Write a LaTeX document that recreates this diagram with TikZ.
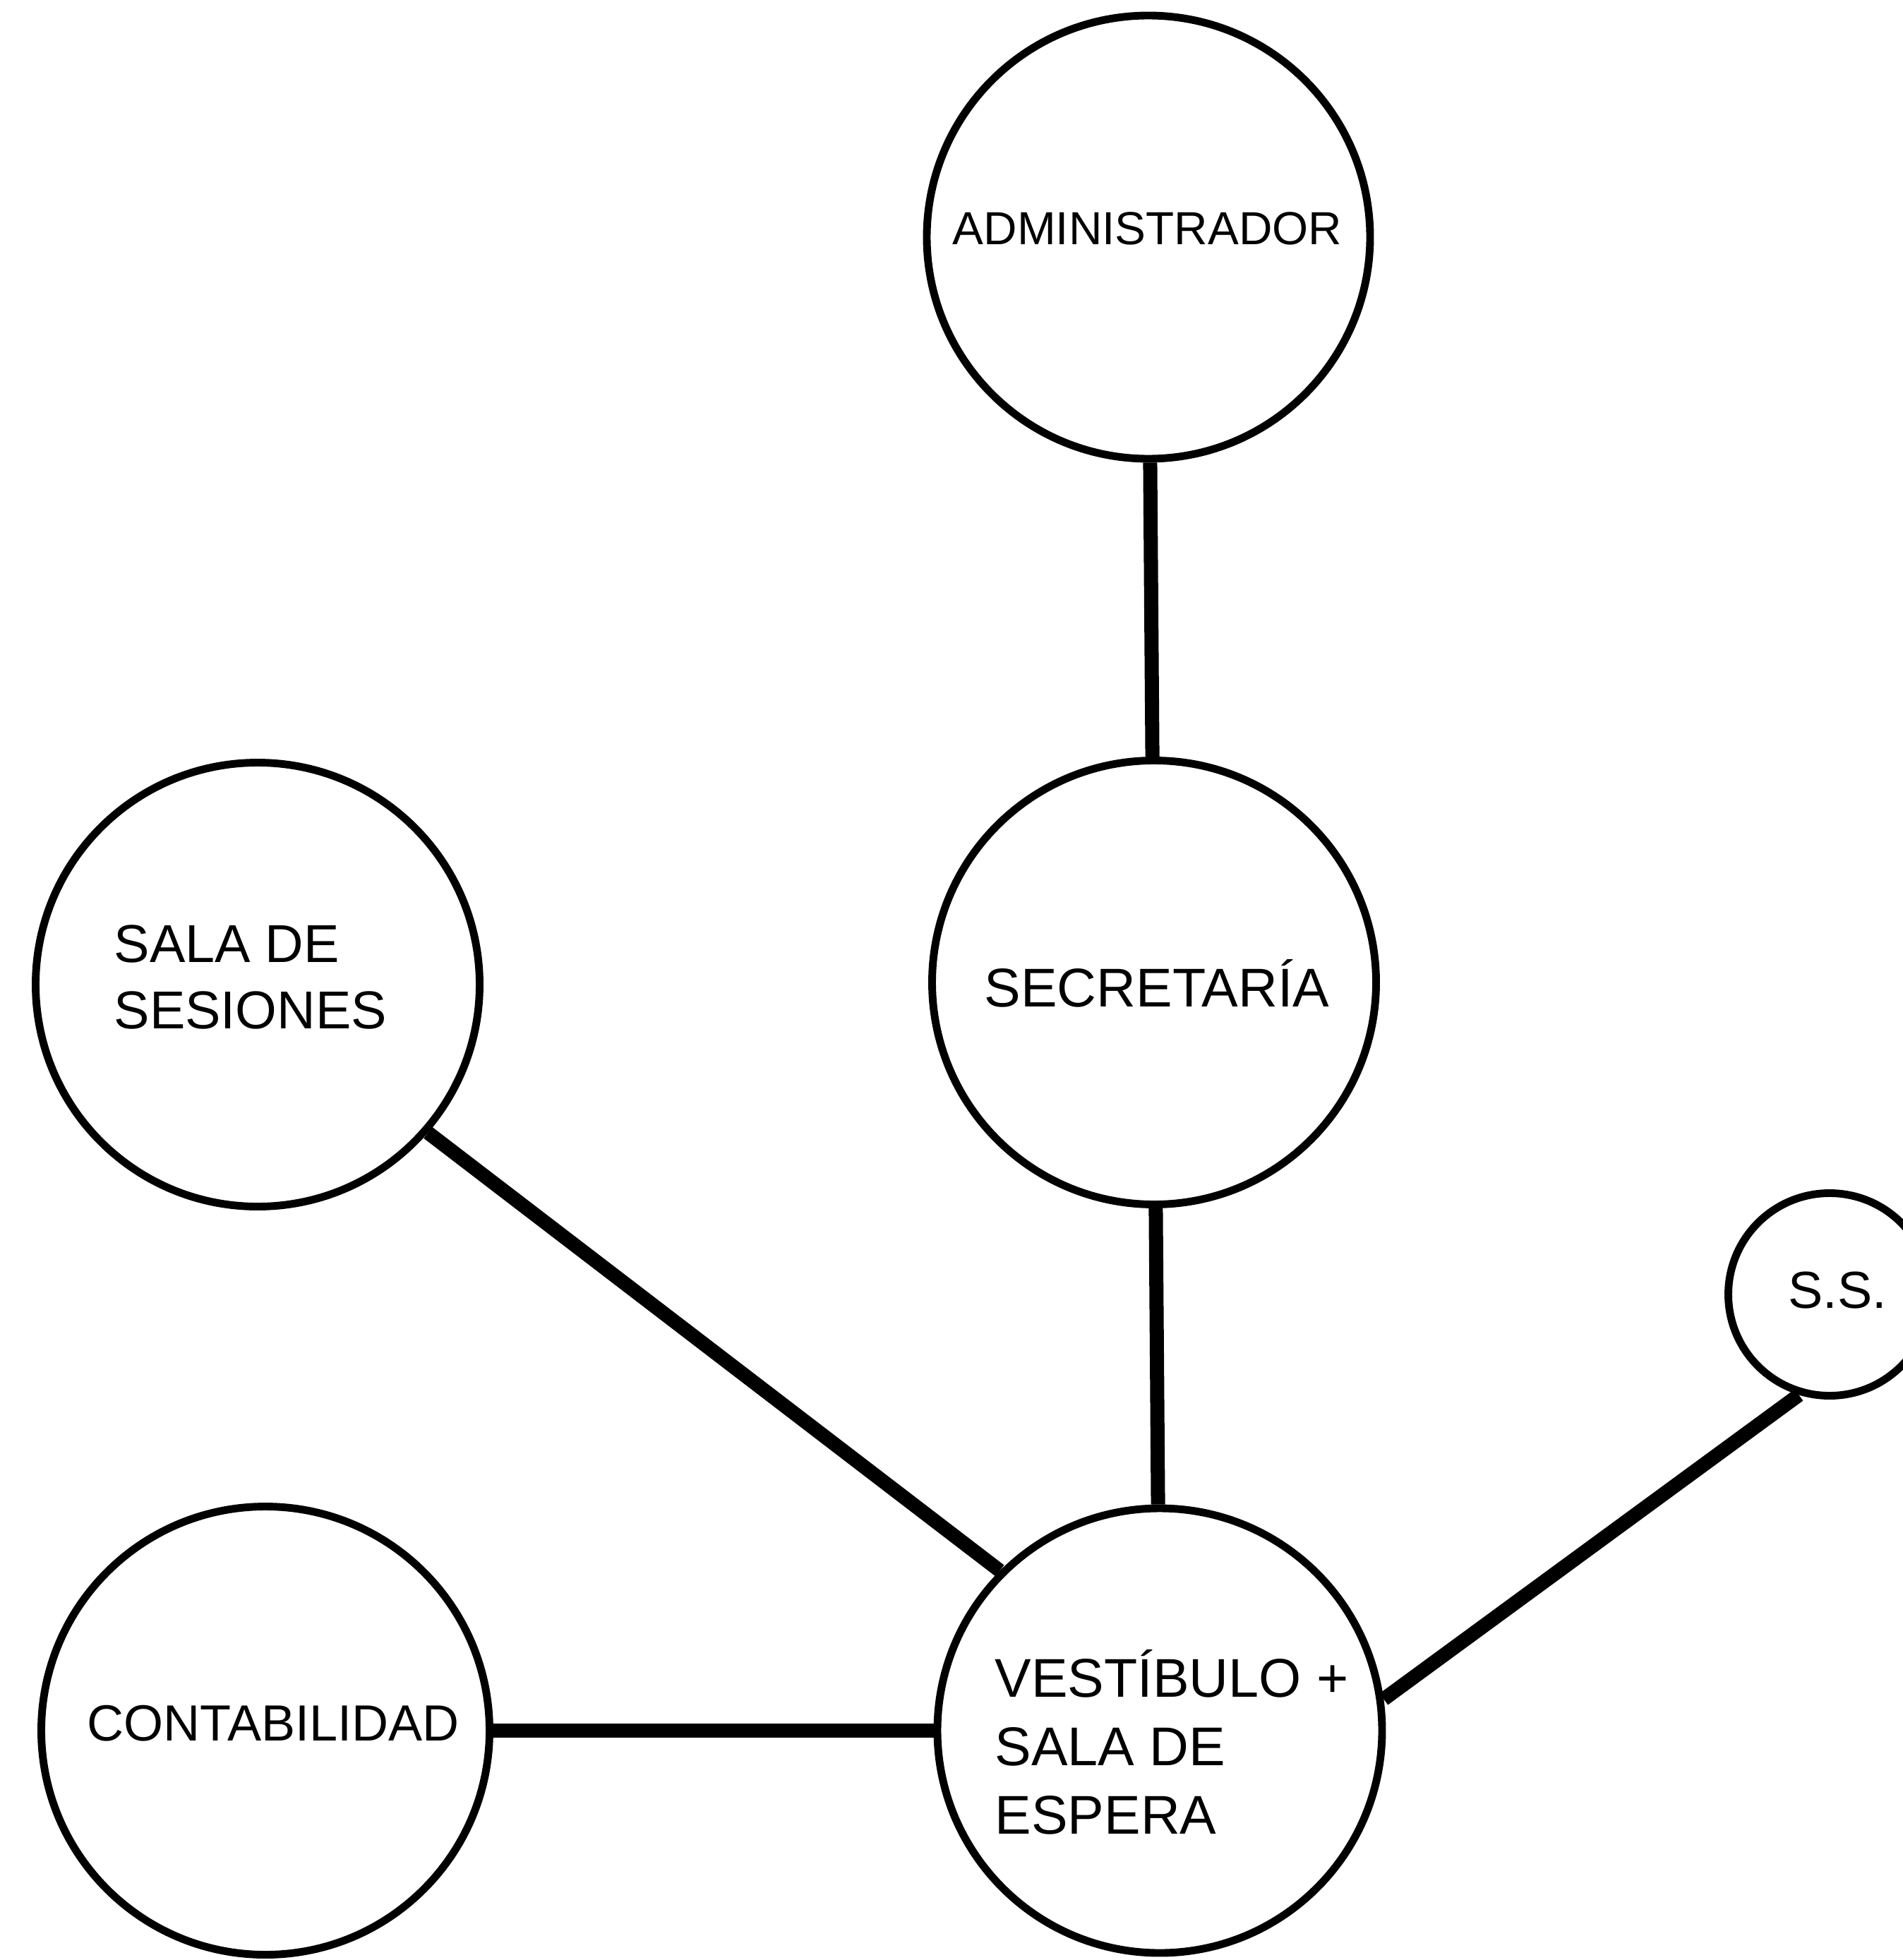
\documentclass[tikz,border=0pt]{standalone}
\usepackage{fontspec}
\setmainfont{Liberation Sans}
\begin{document}
\begin{tikzpicture}[x=1cm,y=1cm,
  room/.style={circle,draw=black,line width=3.1pt,inner sep=0pt},
  lbl/.style={inner sep=0pt,align=left},
  link/.style={line width=5.7pt}]
\useasboundingbox (0,0) rectangle (26.95,-27.77);
% rooms
\node[room,minimum size=6.28cm] (adm)  at (16.27,-3.36)  {};
\node[room,minimum size=6.29cm] (sec)  at (16.35,-13.92) {};
\node[room,minimum size=6.29cm] (sala) at (3.65,-13.95)  {};
\node[room,minimum size=2.87cm] (ss)   at (25.92,-18.34) {};
\node[room,minimum size=6.30cm] (vest) at (16.43,-24.52) {};
\node[room,minimum size=6.35cm] (cont) at (3.76,-24.52)  {};
% labels
\node[lbl,anchor=base west,font=\fontsize{18.7pt}{22pt}\selectfont] (adm-t) at (13.49,-3.46) {ADMINISTRADOR};
\node[lbl,anchor=base west,font=\fontsize{22pt}{26pt}\selectfont] (sec-t) at (13.94,-14.26) {SECRETAR\smash{Í}A};
\node[lbl,anchor=north west,font=\fontsize{21.5pt}{26.7pt}\selectfont] (sala-t) at (1.61,-13.10) {SALA DE\\SESIONES};
\node[lbl,anchor=base west,font=\fontsize{21pt}{25pt}\selectfont] (ss-t) at (25.33,-18.53) {S.S.};
\node[lbl,anchor=north west,font=\fontsize{22pt}{27.6pt}\selectfont] (vest-t) at (14.09,-23.50) {VEST\smash{Í}BULO +\\SALA DE\\ESPERA};
\node[lbl,anchor=base west,font=\fontsize{20.5pt}{24pt}\selectfont] (cont-t) at (1.23,-24.66) {CONTABILIDAD};
% connectors
\draw[link] (adm) -- (sec);
\draw[link] (sec) -- (vest);
\draw[link] (sala.319) -- (vest.135.5);
\draw[link] (ss.253.5) -- (vest.8.3);
\draw[link] (cont) -- (vest);
\end{tikzpicture}
\end{document}
